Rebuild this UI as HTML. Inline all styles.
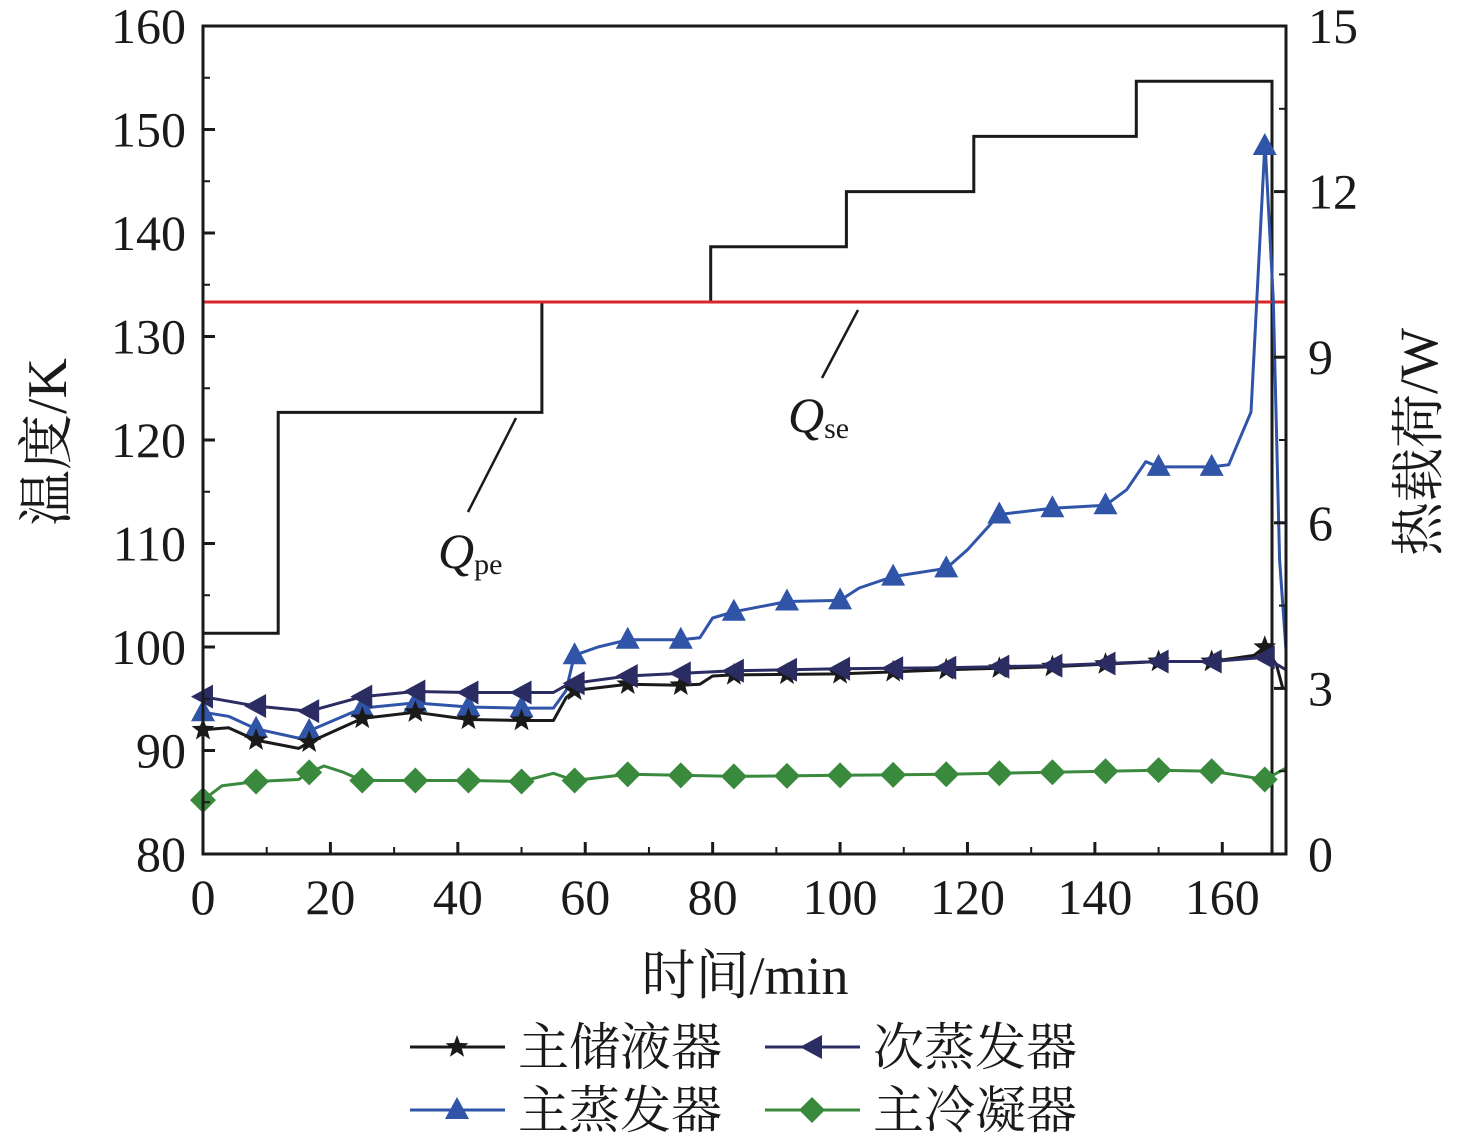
<!DOCTYPE html>
<html><head><meta charset="utf-8">
<style>
html,body{margin:0;padding:0;background:#fff;}
svg{display:block;font-family:"Liberation Serif","Noto Serif CJK SC",serif;}
</style></head>
<body>
<svg id="chart" width="1476" height="1143" viewBox="0 0 1476 1143" xmlns="http://www.w3.org/2000/svg">
<g id="grid"></g>
<g id="series"></g>
<g id="frame"></g>
<g id="legend"></g>
</svg>
<script>
const xTicks = [0,20,40,60,80,100,120,140,160];
const yLeftTicks = [80,90,100,110,120,130,140,150,160];
const yRightTicks = [0,3,6,9,12,15];

const tStore = [0,4,8.3,15,16.7,25,33.3,41.7,50,55,57,58.3,66.7,75,78,80,83.3,100,116.7,133.3,150,158.3,165,166.7,168.5,169.5];
const vStore = [92.0,92.2,91.0,90.2,90.8,93.1,93.7,93.0,92.9,92.9,95.1,95.8,96.4,96.3,96.4,97.2,97.3,97.4,97.8,98.1,98.6,98.6,99.2,100.0,98.3,96.0];

const tSecEvap = [0,8.3,16.7,25,33.3,41.7,50,55,57,58.3,66.7,83.3,100,116.7,133.3,150,158.3,166.7,170];
const vSecEvap = [95.2,94.3,93.8,95.2,95.7,95.6,95.6,95.6,96.3,96.5,97.2,97.7,97.9,98.0,98.2,98.6,98.6,99.0,97.8];

const tMainEvap = [0,4,8.3,15,16.7,25,33.3,41.7,50,55,57,58.3,62,66.7,75,78,80,83.3,91.7,100,103,108.3,116.7,120,125,133.3,141.7,145,148,150,158.3,161,164.5,166.7,168,169,170];
const vMainEvap = [93.7,93.3,92.1,91.2,91.9,94.1,94.6,94.2,94.1,94.1,95.8,99.2,100.0,100.7,100.7,100.9,102.8,103.4,104.4,104.5,105.7,106.8,107.6,109.4,112.8,113.4,113.7,115.2,117.9,117.4,117.4,117.6,122.7,148.8,133.5,108.4,99.7];

const tCond = [0,3,8.3,15,16.7,19,22,25,33.3,41.7,50,55,58.3,66.7,75,83.3,100,116.7,133.3,150,158.3,166.7,170];
const vCond = [85.2,86.6,87.0,87.2,87.9,88.5,87.9,87.1,87.1,87.1,87.0,87.8,87.1,87.7,87.6,87.5,87.6,87.7,87.9,88.1,88.0,87.2,88.3];

const stepTimes = [0,11.8,53.2,79.7,101,121,146.5,167.8];
const stepLoads = [4,8,10,11,12,13,14,0];
const qseLoad = [10];

const X0=203,X1=1286,Y0=854,Y1=26;
const xs = t => X0 + (t/170)*(X1-X0);
const yL = v => Y0 - (v-80)/80*(Y0-Y1);
const yR = w => Y0 - w/15*(Y0-Y1);
const NS='http://www.w3.org/2000/svg';
function mk(tag, attrs, parent){const e=document.createElementNS(NS,tag);for(const k in attrs)e.setAttribute(k,attrs[k]);parent.appendChild(e);return e;}
const G=document.getElementById('series'), F=document.getElementById('frame'), L=document.getElementById('legend');

function interp(ts,vs,t){for(let i=1;i<ts.length;i++){if(t<=ts[i]){const f=(t-ts[i-1])/(ts[i]-ts[i-1]);return vs[i-1]+f*(vs[i]-vs[i-1]);}}return vs[vs.length-1];}

function marker(type,x,y,color,parent){
  let e;
  if(type==='star'){
    let p=[];for(let i=0;i<10;i++){const r=i%2?5:12;const a=-Math.PI/2+i*Math.PI/5;p.push((x+r*Math.cos(a)).toFixed(1)+','+(y+r*Math.sin(a)).toFixed(1));}
    e=mk('polygon',{points:p.join(' '),fill:color},parent);
  } else if(type==='left'){
    e=mk('polygon',{points:`${x-12},${y} ${x+10},${y-12} ${x+10},${y+12}`,fill:color},parent);
  } else if(type==='up'){
    e=mk('polygon',{points:`${x},${y-13} ${x+12},${y+9} ${x-12},${y+9}`,fill:color},parent);
  } else {
    e=mk('polygon',{points:`${x},${y-13} ${x+13},${y} ${x},${y+13} ${x-13},${y}`,fill:color},parent);
  }
  return e;
}

function series(name,ts,vs,color,mtype){
  const g=mk('g',{},G);
  
  
  const d=ts.map((t,i)=>(i?'L':'M')+xs(t).toFixed(1)+','+yL(vs[i]).toFixed(1)).join(' ');
  const p=mk('path',{d:d,fill:'none',stroke:color,'stroke-width':3,'stroke-linejoin':'round'},g);
  
  
  for(let k=0;k<=20;k++){
    const t=k*170/20.4;
    const m=marker(mtype,xs(t),yL(interp(ts,vs,t)),color,g);
    
    
  }
}

(function(){
  let d='M'+xs(stepTimes[0])+','+yR(stepLoads[0]);
  for(let i=1;i<stepTimes.length;i++){d+=' L'+xs(stepTimes[i]).toFixed(1)+','+yR(stepLoads[i-1]).toFixed(1)+' L'+xs(stepTimes[i]).toFixed(1)+','+yR(stepLoads[i]).toFixed(1);}
  const p=mk('path',{d:d,fill:'none',stroke:'#1a1a1a','stroke-width':3},G);
  
  
  const r=mk('line',{x1:X0,x2:X1,y1:yR(qseLoad[0]),y2:yR(qseLoad[0]),stroke:'#d8262b','stroke-width':3},G);
  
  
})();

series('main-condenser',tCond,vCond,'#3a8a3e','diamond');
series('main-evaporator',tMainEvap,vMainEvap,'#2f54a8','up');
series('main-reservoir',tStore,vStore,'#1a1a1a','star');
series('secondary-evaporator',tSecEvap,vSecEvap,'#2b2d62','left');

const box=mk('rect',{x:X0,y:Y1,width:X1-X0,height:Y0-Y1,fill:'none',stroke:'#1a1a1a','stroke-width':3},F);


function txt(s,x,y,attrs,name){const e=mk('text',Object.assign({x:x,y:y,'font-size':50,fill:'#1a1a1a'},attrs||{}),F);e.textContent=s;return e;}
xTicks.forEach(v=>{mk('line',{x1:xs(v),x2:xs(v),y1:Y0,y2:Y0-12,stroke:'#1a1a1a','stroke-width':3},F);
  txt(String(v),xs(v),914,{'text-anchor':'middle'},'x-tick-label');});
for(let v=10;v<170;v+=20)mk('line',{x1:xs(v),x2:xs(v),y1:Y0,y2:Y0-7,stroke:'#1a1a1a','stroke-width':2},F);
yLeftTicks.forEach(v=>{mk('line',{x1:X0,x2:X0+12,y1:yL(v),y2:yL(v),stroke:'#1a1a1a','stroke-width':3},F);
  txt(String(v),186,yL(v)+17,{'text-anchor':'end'},'y-left-tick-label');});
for(let v=85;v<160;v+=10)mk('line',{x1:X0,x2:X0+7,y1:yL(v),y2:yL(v),stroke:'#1a1a1a','stroke-width':2},F);
yRightTicks.forEach(v=>{mk('line',{x1:X1,x2:X1-12,y1:yR(v),y2:yR(v),stroke:'#1a1a1a','stroke-width':3},F);
  txt(String(v),1308,yR(v)+17,{'text-anchor':'start'},'y-right-tick-label');});
for(let v=1.5;v<15;v+=3)mk('line',{x1:X1,x2:X1-7,y1:yR(v),y2:yR(v),stroke:'#1a1a1a','stroke-width':2},F);

txt('时间/min',745,994,{'text-anchor':'middle','font-size':54},'x-axis-title');
txt('温度/K',0,0,{'text-anchor':'middle','font-size':56,transform:'translate(66,442) rotate(-90)'},'y-left-axis-title');
txt('热载荷/W',0,0,{'text-anchor':'middle','font-size':54,transform:'translate(1437,442) rotate(-90)'},'y-right-axis-title');

mk('line',{x1:468,y1:512,x2:516,y2:418,stroke:'#1a1a1a','stroke-width':2.5},F);
mk('line',{x1:822,y1:378,x2:858,y2:310,stroke:'#1a1a1a','stroke-width':2.5},F);
const a1=txt('',438,568,{'font-size':50},'qpe-label');
a1.innerHTML='<tspan font-style="italic">Q</tspan><tspan font-size="30" dy="6">pe</tspan>';
const a2=txt('',788,432,{'font-size':50},'qse-label');
a2.innerHTML='<tspan font-style="italic">Q</tspan><tspan font-size="30" dy="6">se</tspan>';

const leg=[['主储液器','#1a1a1a','star',410,1047],['次蒸发器','#2b2d62','left',765,1047],['主蒸发器','#2f54a8','up',410,1110],['主冷凝器','#3a8a3e','diamond',765,1110]];
leg.forEach(l=>{
  const g=mk('g',{},L);
  
  
  mk('line',{x1:l[3],x2:l[3]+95,y1:l[4],y2:l[4],stroke:l[1],'stroke-width':3},g);
  marker(l[2],l[3]+47,l[4],l[1],g);
  const t=mk('text',{x:l[3]+108,y:l[4]+18,'font-size':51,fill:'#1a1a1a'},g);
  t.textContent=l[0];
});
</script>
</body></html>
